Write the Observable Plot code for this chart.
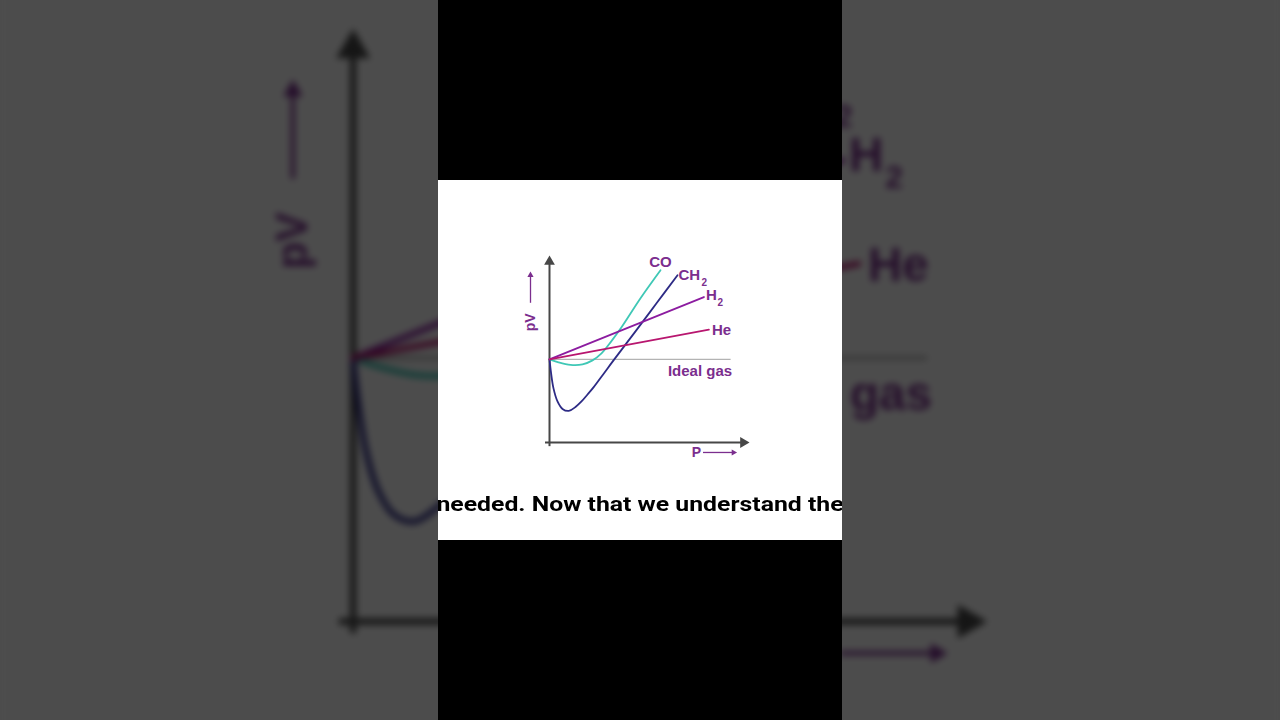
<!DOCTYPE html>
<html><head><meta charset="utf-8">
<script src="https://cdn.jsdelivr.net/npm/d3@7"></script>
<script src="https://cdn.jsdelivr.net/npm/@observablehq/plot@0.6"></script>
<style>
html,body{margin:0;padding:0;width:1280px;height:720px;overflow:hidden;background:#000;}
#bgwrap{position:absolute;left:0;top:0;width:1280px;height:720px;overflow:hidden;background:#4d4d4d;}
#bg{position:absolute;left:438px;top:180px;width:404px;height:360px;background:#fff;transform-origin:202px 180px;transform:scale(3.17);filter:blur(1.2px) brightness(0.3);}
#col{position:absolute;left:438px;top:0;width:404px;height:720px;background:#000;}
.panel{position:absolute;left:0;top:180px;width:404px;height:360px;background:#fff;overflow:hidden;}
#bg .panel{top:0;}
.sub{position:absolute;left:-60px;width:524px;top:312px;height:24px;line-height:24px;text-align:center;font-family:Roboto,sans-serif;font-weight:700;font-size:21px;color:#000;white-space:nowrap;transform:scaleX(1.18);transform-origin:262px 12px;}
svg{display:block;}
</style></head>
<body>
<div id="bgwrap"><div id="bg"></div></div>
<div id="col"></div>
<script>
// Series: P (arbitrary units) and pV (relative to ideal = 1)
const coP   = [0, 0.45, 1.05, 1.65, 2.15, 2.6, 3.05, 3.6, 4.55, 5.55];
const coPV  = [1.0, 0.964, 0.934, 0.94, 0.988, 1.072, 1.205, 1.386, 1.735, 2.072];
const ch2P  = [0, 0.075, 0.2, 0.4, 0.65, 0.965, 1.3, 1.6, 1.9, 2.2, 2.7, 3.2, 4.3, 5.35, 6.4];
const ch2PV = [1.0, 0.843, 0.651, 0.494, 0.404, 0.38, 0.428, 0.494, 0.578, 0.663, 0.825, 0.988, 1.337, 1.675, 2.012];
const h2P   = [0, 7.72];
const h2PV  = [1.0, 1.75];
const heP   = [0, 7.97];
const hePV  = [1.0, 1.358];
const idealPV = 1;
const idealEnd = 9.08;
const pMax = 10, pvMax = 2.25;
const gasNames = ["CO", "CH", "H", "He"];
const gasSubs  = ["", "2", "2", ""];
const idealLabel = "Ideal gas";
const xLabel = "P", yLabel = "pV";
const subtitle = "needed. Now that we understand the";

const colors = {CO:"#3fc8b6", CH:"#2d2b85", H:"#8c1ca0", He:"#b8166f"};
const labelColor = "#7b2e8e";
const axisColor = "#474747";

function rows(P, V){ return P.map((p,i)=>({p, pv:V[i]})); }

function chart(){
  const series = [rows(coP,coPV), rows(ch2P,ch2PV), rows(h2P,h2PV), rows(heP,hePV)];
  const ends = series.map((s,i)=>({...s[s.length-1], name:gasNames[i], sub:gasSubs[i]}));
  const labelOpts = [
    {dx:0, dy:-8, textAnchor:"middle"},
    {dx:1, dy:0, textAnchor:"start"},
    {dx:2, dy:-1.5, textAnchor:"start"},
    {dx:3, dy:0.5, textAnchor:"start"}
  ];
  const subOpts = [null, {dx:24, dy:8}, {dx:13.5, dy:5.5}, null];
  const textStyle = {fill:labelColor, fontWeight:"bold", fontSize:15};
  const marks = [
    Plot.ruleY([idealPV], {x1:0, x2:idealEnd, stroke:"#b3b3b3", strokeWidth:1.3}),
    Plot.ruleX([0], {y1:-0.05, y2:pvMax - 0.07, stroke:axisColor, strokeWidth:2}),
    Plot.ruleY([0], {x1:-0.2, x2:pMax - 0.3, stroke:axisColor, strokeWidth:2}),
    Plot.dot([{p:0, pv:pvMax}], {x:"p", y:"pv", symbol:"triangle", r:4, fill:axisColor, stroke:null, dy:6.2}),
    Plot.dot([{p:pMax, pv:0}], {x:"p", y:"pv", symbol:"triangle", r:4, fill:axisColor, stroke:null, dx:-6.2, rotate:90}),
    Plot.line(series[0], {x:"p", y:"pv", stroke:colors.CO, strokeWidth:1.8, curve:"catmull-rom"}),
    Plot.line(series[1], {x:"p", y:"pv", stroke:colors.CH, strokeWidth:1.8, curve:"catmull-rom"}),
    Plot.line(series[2], {x:"p", y:"pv", stroke:colors.H, strokeWidth:1.8}),
    Plot.line(series[3], {x:"p", y:"pv", stroke:colors.He, strokeWidth:1.8}),
  ];
  ends.forEach((e,i)=>{
    marks.push(Plot.text([e], {x:"p", y:"pv", text:"name", ...labelOpts[i], ...textStyle}));
    if (subOpts[i]) marks.push(Plot.text([e], {x:"p", y:"pv", text:"sub", textAnchor:"start", ...subOpts[i], fill:labelColor, fontWeight:"bold", fontSize:10}));
  });
  marks.push(Plot.text([{p:idealEnd, pv:idealPV, t:idealLabel}], {x:"p", y:"pv", text:"t", textAnchor:"end", dx:1, dy:11.5, ...textStyle}));
  // axis names with little arrows
  marks.push(Plot.text([{p:-0.95, pv:1.446, t:yLabel}], {x:"p", y:"pv", text:"t", rotate:-90, ...textStyle, fontSize:14}));
  marks.push(Plot.ruleX([-0.95], {y1:1.675, y2:2.0, stroke:labelColor, strokeWidth:1.3}));
  marks.push(Plot.dot([{p:-0.95, pv:2.05}], {x:"p", y:"pv", symbol:"triangle", r:2.3, fill:labelColor, stroke:null, dy:3}));
  marks.push(Plot.text([{p:7.35, pv:-0.125, t:xLabel}], {x:"p", y:"pv", text:"t", ...textStyle, fontSize:14}));
  marks.push(Plot.ruleY([-0.12], {x1:7.7, x2:9.2, stroke:labelColor, strokeWidth:1.3}));
  marks.push(Plot.dot([{p:9.35, pv:-0.12}], {x:"p", y:"pv", symbol:"triangle", r:2.3, fill:labelColor, stroke:null, dx:-3, rotate:90}));

  return Plot.plot({
    width:404, height:300, marginLeft:111, marginRight:93, marginTop:75, marginBottom:38,
    x:{domain:[0,pMax], axis:null}, y:{domain:[0,pvMax], axis:null},
    style:{background:"#fff", overflow:"visible", fontFamily:"'Liberation Sans', Arial, sans-serif"},
    marks
  });
}

function panel(withSub){
  const p = document.createElement("div");
  p.className = "panel";
  p.appendChild(chart());
  if (withSub) {
    const s = document.createElement("div");
    s.className = "sub";
    s.textContent = subtitle;
    p.appendChild(s);
  }
  return p;
}
document.getElementById("bg").appendChild(panel(false));
document.getElementById("col").appendChild(panel(true));
</script>
</body></html>
